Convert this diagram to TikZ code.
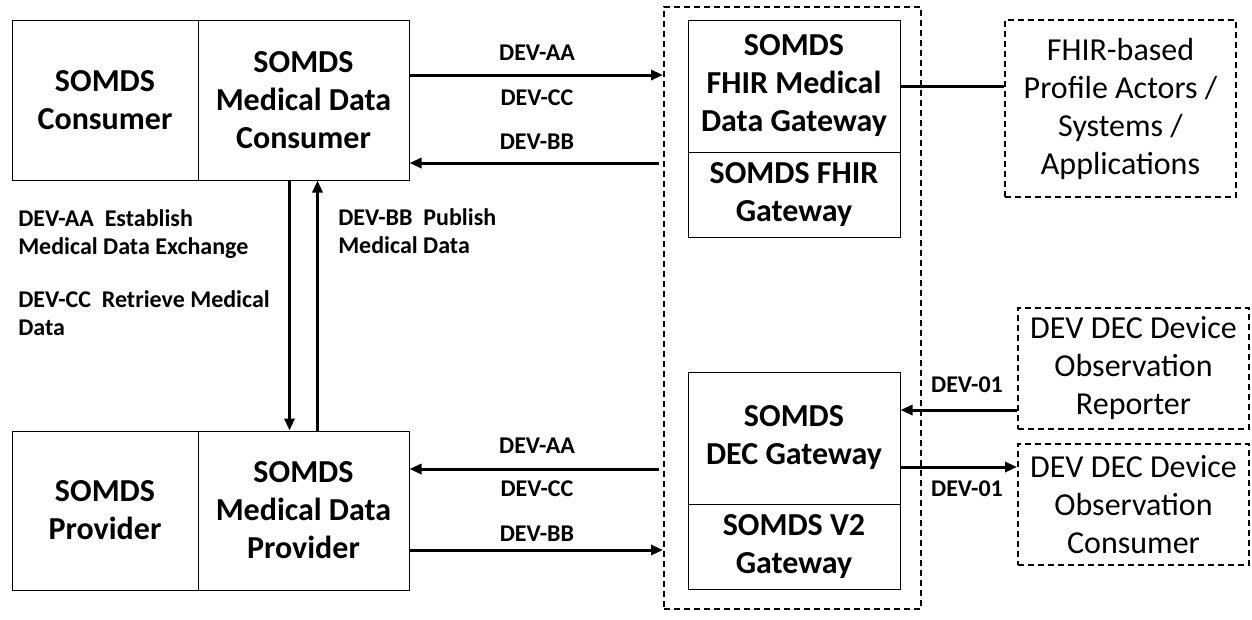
\documentclass[tikz,border=0pt]{standalone}
\usepackage{fontspec}
\setmainfont{Carlito}
\usetikzlibrary{arrows.meta}
\usetikzlibrary{positioning}

\begin{document}
\begin{tikzpicture}[x=0.75pt,y=-0.75pt,
    box/.style={draw=black,line width=0.75pt,align=center,inner sep=0pt,
        font=\bfseries\fontsize{24}{28.5}\selectfont},
    dbox/.style={draw=black,line width=1.5pt,dash pattern=on 4.5pt off 3pt,
        align=center,inner sep=0pt,minimum width=173.25pt,
        font=\fontsize{24}{28.5}\selectfont},
    link/.style={line width=2.25pt,-{Triangle[length=9pt,width=7.5pt]}},
    lbl/.style={inner sep=0pt,font=\bfseries\fontsize{18}{21}\selectfont}]
\useasboundingbox (0,0) rectangle (1252,619);

\edef\w{139.5pt} 
\edef\W{158.25pt} 
\edef\g{159pt} 

% consumer and provider
\node[box,minimum width=\w,minimum height=120pt] (cons) at (105,100) {SOMDS\\Consumer};
\node[box,minimum width=\W,minimum height=120pt] (mdc) at (303.5,100) {SOMDS\\Medical Data\\Consumer};
\node[box,minimum width=\w,minimum height=119.25pt] (prov) at (105,510.5) {SOMDS\\Provider};
\node[box,minimum width=\W,minimum height=119.25pt] (mdp) at (303.5,510.5) {SOMDS\\Medical Data\\Provider};

% gateways
\node[draw=black,line width=1.5pt,dash pattern=on 4.5pt off 3pt,minimum width=192.75pt,minimum height=451.5pt] (zone) at (792.5,308) {};
\node[box,minimum width=\g,minimum height=99pt] (fmdg) at (794,86) {SOMDS\\FHIR Medical\\Data Gateway};
\node[box,minimum width=\g,minimum height=63.75pt] (fgw) at (794,194.5) {SOMDS FHIR\\Gateway};
\node[box,minimum width=\g,minimum height=99pt] (decgw) at (794,438) {SOMDS\\DEC Gateway};
\node[box,minimum width=\g,minimum height=63.75pt] (v2gw) at (794,546.5) {SOMDS V2\\Gateway};

% outside actors
\node[dbox,minimum height=132.75pt] (actors) at (1120.5,108.5) {FHIR-based\\Profile Actors /\\Systems /\\Applications};
\node[dbox,minimum height=90.75pt] (rep) at (1133.5,368.5) {DEV DEC Device\\Observation\\Reporter};
\node[dbox,minimum height=90.75pt] (decc) at (1133.5,504.5) {DEV DEC Device\\Observation\\Consumer};

% transactions
\draw[link] ([yshift=18.75pt]mdc.east) -- ([yshift=18.75pt]mdc.east -| zone.west);
\draw[link] ([yshift=-47.25pt,xshift=-3pt]mdc.east -| zone.west) -- ([yshift=-47.25pt]mdc.east);
\node[lbl] (aa1) at (537,53) {DEV-AA};
\node[lbl] (cc1) at (537,98) {DEV-CC};
\node[lbl] (bb1) at (537,142) {DEV-BB};

\draw[link] ([yshift=31.125pt,xshift=-3pt]mdp.east -| zone.west) -- ([yshift=31.125pt]mdp.east);
\draw[link] ([yshift=-29.625pt]mdp.east) -- ([yshift=-29.625pt]mdp.east -| zone.west);
\node[lbl] (aa2) at (537,446) {DEV-AA};
\node[lbl] (cc2) at (537,489) {DEV-CC};
\node[lbl] (bb2) at (537,534) {DEV-BB};

\draw[link] ([xshift=-10.5pt]mdc.south) -- ([xshift=-10.5pt]mdc.south |- mdp.north);
\draw[link] ([xshift=10.5pt]mdp.north) -- ([xshift=10.5pt]mdp.north |- mdc.south);
\node[lbl,align=left,anchor=base west] (aadesc) at (18,254) {DEV-AA\ \ Establish\\Medical Data Exchange};
\node[lbl,align=left,anchor=base west] (ccdesc) at (18,335) {DEV-CC\ \ Retrieve Medical\\Data};
\node[lbl,align=left,anchor=base west] (bbdesc) at (338,253) {DEV-BB\ \ Publish\\Medical Data};

\draw[line width=2.25pt] (fmdg.east) -- (fmdg.east -| actors.west);

\draw[link] ([yshift=-31.125pt]rep.west) -- ([yshift=-31.125pt]rep.west -| decgw.east);
\draw[link] ([yshift=-21.75pt]decgw.east) -- ([yshift=-21.75pt]decgw.east -| decc.west);
\node[lbl] (d01a) at (967,385) {DEV-01};
\node[lbl] (d01b) at (967,489) {DEV-01};
\end{tikzpicture}
\end{document}
